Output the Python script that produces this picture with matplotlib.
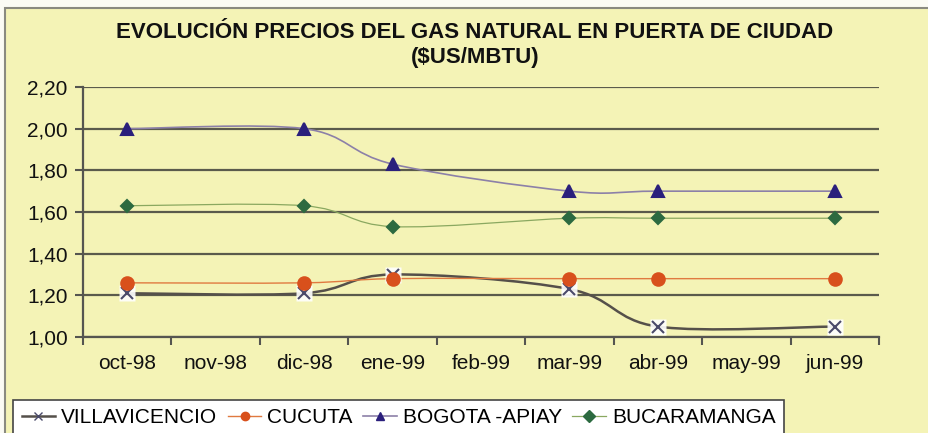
import numpy as np
import matplotlib
matplotlib.use("Agg")
import matplotlib.pyplot as plt
from matplotlib.path import Path
from matplotlib.patches import PathPatch, Rectangle
from matplotlib.lines import Line2D

plt.rcParams['font.family'] = ['Liberation Sans', 'DejaVu Sans']

meses = ["oct-98", "nov-98", "dic-98", "ene-99", "feb-99", "mar-99", "abr-99", "may-99", "jun-99"]
# posiciones (indice de mes) que tienen dato
idx_datos = [0, 2, 3, 5, 6, 8]

villavicencio = [1.21, 1.21, 1.30, 1.23, 1.05, 1.05]
cucuta = [1.26, 1.26, 1.28, 1.28, 1.28, 1.28]
bogota = [2.00, 2.00, 1.83, 1.70, 1.70, 1.70]
bucaramanga = [1.63, 1.63, 1.53, 1.57, 1.57, 1.57]

nombres = ["VILLAVICENCIO", "CUCUTA", "BOGOTA -APIAY", "BUCARAMANGA"]

fondo = "#f4f3b6"


def curva_suave(xs, ys):
    # linea suavizada tipo Excel (Catmull-Rom pasado a Bezier)
    xs = np.asarray(xs, float)
    ys = np.asarray(ys, float)
    n = len(xs)
    verts = [(xs[0], ys[0])]
    codes = [Path.MOVETO]
    for i in range(n - 1):
        p0 = np.array([xs[max(i - 1, 0)], ys[max(i - 1, 0)]])
        p1 = np.array([xs[i], ys[i]])
        p2 = np.array([xs[i + 1], ys[i + 1]])
        p3 = np.array([xs[min(i + 2, n - 1)], ys[min(i + 2, n - 1)]])
        c1 = p1 + (p2 - p0) / 6.0
        c2 = p2 - (p3 - p1) / 6.0
        verts += [tuple(c1), tuple(c2), tuple(p2)]
        codes += [Path.CURVE4] * 3
    return Path(verts, codes)


fig = plt.figure(figsize=(9.29, 4.33), dpi=100)
fig.patch.set_facecolor("#fbfbf4")

# area del grafico (marco)
marco = Rectangle((5 / 929, -0.05), 1.0, 1 - 8 / 433 + 0.05,
                  transform=fig.transFigure, facecolor=fondo,
                  edgecolor="#8a8a80", linewidth=1.5, zorder=-5)
fig.add_artist(marco)

ax = fig.add_axes([83 / 929, 1 - 337 / 433, (879 - 83) / 929, 250 / 433])
ax.set_facecolor(fondo)
ax.set_zorder(2)

series = [
    (villavicencio, "#55504a", 1.8, "x", "#4a4a6a", 9, "white"),
    (cucuta, "#e07a40", 1.0, "o", "#d8501c", 9, None),
    (bogota, "#8c80a8", 1.2, "^", "#2a1f7c", 9, None),
    (bucaramanga, "#8aa860", 0.9, "D", "#2c6a40", 6.5, None),
]

handles = []
for (vals, lc, lw, mk, mc, ms, bg), nombre in zip(series, nombres):
    ax.add_patch(PathPatch(curva_suave(idx_datos, vals), facecolor="none",
                           edgecolor=lc, linewidth=lw, zorder=3))
    if bg:
        ax.plot(idx_datos, vals, linestyle="none", marker="s", markersize=11,
                markerfacecolor=bg, markeredgecolor="none", alpha=0.9, zorder=4)
    ax.plot(idx_datos, vals, linestyle="none", marker=mk, markersize=ms,
            markerfacecolor=mc, markeredgecolor=mc, markeredgewidth=1.5, zorder=5)
    handles.append(Line2D([], [], color=lc, linewidth=lw, marker=mk, markersize=6,
                          markerfacecolor=mc, markeredgecolor=mc))

ax.set_xlim(-0.5, 8.5)
ax.set_ylim(1.0, 2.2)
ax.set_yticks(np.arange(1.0, 2.21, 0.2))
ax.set_yticklabels([f"{v:.2f}".replace(".", ",") for v in np.arange(1.0, 2.21, 0.2)])
ax.set_xticks(np.arange(-0.5, 9, 1.0))
ax.set_xticklabels([])
ax.set_xticks(range(len(meses)), minor=True)
ax.set_xticklabels(meses, minor=True)
ax.tick_params(axis="x", which="major", length=6, width=1.5, color="#555550", direction="out")
ax.tick_params(axis="x", which="minor", length=0, pad=12, labelsize=15, labelcolor="#111111")
ax.tick_params(axis="y", length=6, width=1.5, color="#555550", labelsize=15,
               labelcolor="#111111", pad=5)
ax.yaxis.grid(True, color="#5a5a4c", linewidth=1.6)
ax.set_axisbelow(True)
for s in ["top", "right"]:
    ax.spines[s].set_visible(False)
for s in ["left", "bottom"]:
    ax.spines[s].set_color("#555550")
    ax.spines[s].set_linewidth(1.6)

fig.text(475 / 929, 1 - 33 / 433, "EVOLUCIÓN PRECIOS DEL GAS NATURAL EN PUERTA DE CIUDAD",
         ha="center", va="center", fontsize=16, fontweight="bold", color="#111111")
fig.text(475 / 929, 1 - 57 / 433, "($US/MBTU)", ha="center", va="center",
         fontsize=16, fontweight="bold", color="#111111")

leg = fig.legend(handles, nombres, loc="lower left", bbox_to_anchor=(3 / 929, -0.03),
                 ncol=4, frameon=True, fancybox=False, edgecolor="#444444",
                 facecolor="white", framealpha=1, fontsize=15, handlelength=1.6,
                 handletextpad=0.3, columnspacing=0.5, borderpad=0.4)
leg.get_frame().set_linewidth(1.2)
leg.set_zorder(3)

fig.savefig("out.png", dpi=100, facecolor=fig.get_facecolor())
